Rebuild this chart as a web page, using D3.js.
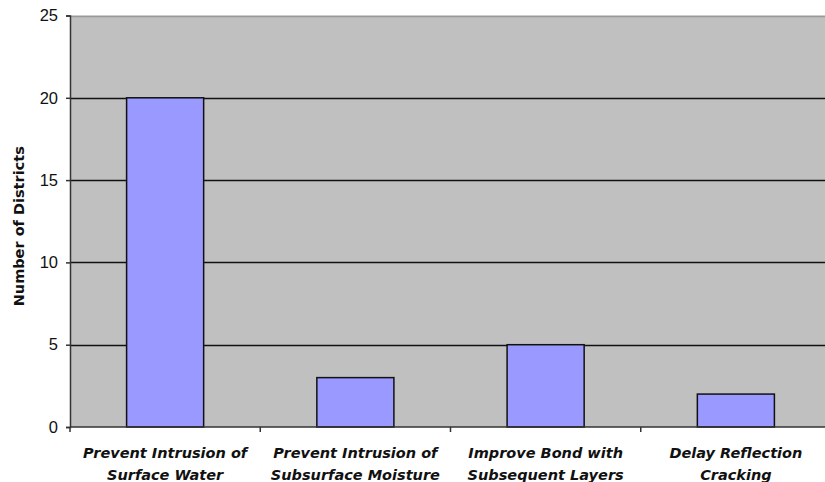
<!DOCTYPE html>
<html><head><meta charset="utf-8">
<script src="https://cdn.jsdelivr.net/npm/d3@7"></script>
<style>body{margin:0;background:#fff}svg{display:block}</style>
</head><body>
<svg id="c" width="825" height="482"></svg>
<script>
const categories = [
  ["Prevent Intrusion of", "Surface Water"],
  ["Prevent Intrusion of", "Subsurface Moisture"],
  ["Improve Bond with", "Subsequent Layers"],
  ["Delay Reflection", "Cracking"]
];
const values = [20, 3, 5, 2];
const yTicks = [0, 5, 10, 15, 20, 25];
const yLabel = "Number of Districts";

(function () {
const svg = d3.select("#c");
const pL = 70, pR = 831, pT = 15.5, pB = 427;
const x = d3.scaleBand().domain(d3.range(categories.length)).range([pL, pR]).paddingInner(0.595).paddingOuter(0.2975);
const xb = d3.scaleBand().domain(d3.range(categories.length)).range([pL, pR]);
const y = d3.scaleLinear().domain([0, 25]).range([pB, pT]);

svg.append("rect").attr("x", pL).attr("y", pT).attr("width", pR - pL).attr("height", pB - pT).attr("fill", "#c0c0c0");

svg.append("g").selectAll("line").data(yTicks.filter(d => d > 0)).join("line")
  .attr("x1", pL).attr("x2", pR)
  .attr("y1", d => Math.round(y(d)) + 0.5).attr("y2", d => Math.round(y(d)) + 0.5)
  .attr("stroke", d => d === 25 ? "#999" : "#111").attr("stroke-width", 1.5);

svg.append("g").selectAll("rect").data(values).join("rect")
  .attr("x", (d, i) => x(i)).attr("width", x.bandwidth())
  .attr("y", d => y(d)).attr("height", d => y(0) - y(d))
  .attr("fill", "#9999ff").attr("stroke", "#111").attr("stroke-width", 1.5);

const ya = svg.append("g").attr("transform", `translate(${pL},0)`)
  .call(d3.axisLeft(y).tickValues(yTicks).tickSize(4).tickPadding(8));
ya.select(".domain").attr("stroke", "#333").attr("stroke-width", 1.5);
ya.selectAll(".tick line").attr("stroke", "#333").attr("stroke-width", 1.5);
ya.selectAll("text").attr("font-family", "Liberation Sans, Arial, sans-serif").attr("font-size", 16.5).attr("fill", "#111");

const xa = svg.append("g").attr("transform", `translate(0,${pB})`);
xa.append("line").attr("x1", pL).attr("x2", pR).attr("y1", 0).attr("y2", 0).attr("stroke", "#333").attr("stroke-width", 1.5);
xa.selectAll(".tk").data(d3.range(categories.length + 1)).join("line")
  .attr("x1", i => i < categories.length ? xb(i) : pR).attr("x2", i => i < categories.length ? xb(i) : pR)
  .attr("y1", 0).attr("y2", 5).attr("stroke", "#333").attr("stroke-width", 1.5);
const lbl = xa.selectAll("text").data(categories).join("text")
  .attr("text-anchor", "middle")
  .attr("font-family", "DejaVu Sans, sans-serif").attr("font-size", 14.5)
  .attr("font-weight", "bold").attr("font-style", "italic").attr("fill", "#111");
lbl.each(function(d, i) {
  const t = d3.select(this);
  d.forEach((s, k) => t.append("tspan").attr("x", xb(i) + xb.bandwidth() / 2).attr("y", 31 + k * 22).text(s));
});

svg.append("text").attr("transform", `translate(24,${(pT + pB) / 2 + 5}) rotate(-90)`)
  .attr("text-anchor", "middle").attr("font-family", "DejaVu Sans, sans-serif")
  .attr("font-size", 14.5).attr("font-weight", "bold").attr("fill", "#111").text(yLabel);
})();
</script>
</body></html>
